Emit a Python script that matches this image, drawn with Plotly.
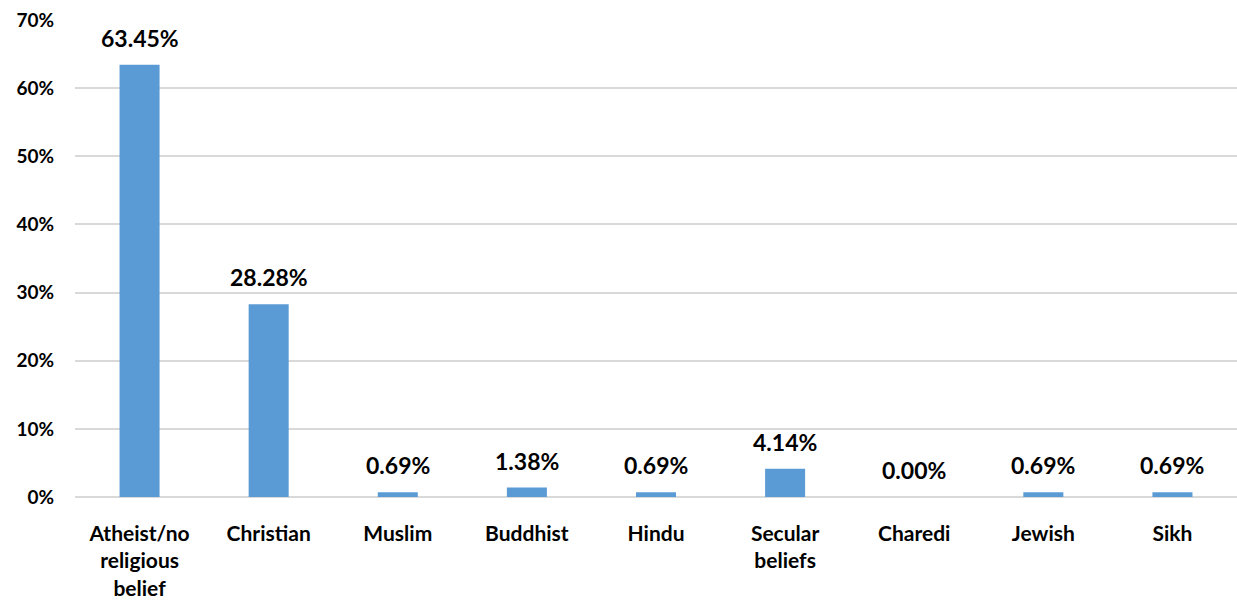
import plotly.graph_objects as go

categories = ["Atheist/no<br>religious<br>belief", "Christian", "Muslim", "Buddhist", "Hindu",
              "Secular<br>beliefs", "Charedi", "Jewish", "Sikh"]
values = [0.6345, 0.2828, 0.0069, 0.0138, 0.0069, 0.0414, 0.0000, 0.0069, 0.0069]
y_ticks = [0, 0.1, 0.2, 0.3, 0.4, 0.5, 0.6, 0.7]

FONT = "Lato"

fig = go.Figure(go.Bar(
    x=categories, y=values,
    marker=dict(color="#5B9BD5", line=dict(width=0)),
    hoverinfo="x+y",
))

for c, v in zip(categories, values):
    fig.add_annotation(
        x=c, y=v, text=f"{v:.2%}", showarrow=False,
        yanchor="middle", yshift=27,
        font=dict(family=FONT, size=23, color="#000000", weight="bold"),
    )

fig.update_layout(
    width=1237, height=610,
    margin=dict(l=75, r=0, t=20, b=113, autoexpand=False),
    paper_bgcolor="white", plot_bgcolor="white",
    bargap=0.69,
    showlegend=False,
    font=dict(family=FONT, color="#000000"),
    xaxis=dict(
        tickfont=dict(family=FONT, size=21, color="#000000", weight="bold"),
        showgrid=False, showline=False, ticks="", automargin=False,
        ticklabelstandoff=22,
    ),
    yaxis=dict(
        range=[0, 0.7], tickvals=y_ticks, tickformat=".0%",
        tickfont=dict(family=FONT, size=19, color="#000000", weight="bold"),
        showgrid=True, gridcolor="#D9D9D9", gridwidth=1.5,
        zeroline=True, zerolinecolor="#D9D9D9", zerolinewidth=1.5,
        showline=False, ticks="", ticklabelstandoff=20, automargin=False,
    ),
)

fig.write_html(
    "out.html",
    config={"displayModeBar": False},
    post_script="document.body.style.margin='0';document.body.style.overflow='hidden';",
)
